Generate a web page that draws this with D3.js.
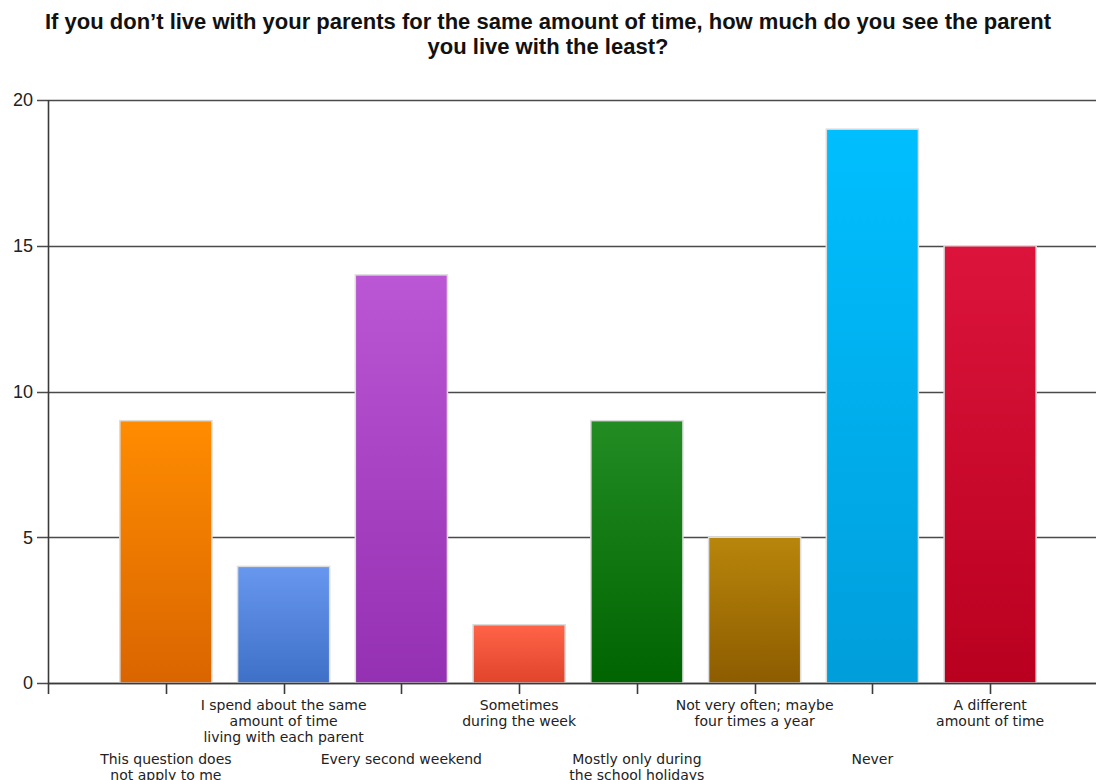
<!DOCTYPE html>
<html>
<head>
<meta charset="utf-8">
<script src="https://cdn.jsdelivr.net/npm/d3@7"></script>
<style>
  body { margin: 0; background: #fff; }
  svg { display: block; }
</style>
</head>
<body>
<svg width="1096" height="780"></svg>
<script>
// Data
const titleLines = [
  "If you don\u2019t live with your parents for the same amount of time, how much do you see the parent",
  "you live with the least?"
];
const categories = [
  "This question does\nnot apply to me",
  "I spend about the same\namount of time\nliving with each parent",
  "Every second weekend",
  "Sometimes\nduring the week",
  "Mostly only during\nthe school holidays",
  "Not very often; maybe\nfour times a year",
  "Never",
  "A different\namount of time"
];
const values = [9, 4, 14, 2, 9, 5, 19, 15];
const yTicks = [0, 5, 10, 15, 20];

// bar colours, top and bottom of the gradient
const topColors = ["#ff8c00", "#6797ee", "#bb56d4", "#ff6448", "#238c23", "#b8860b", "#00bfff", "#dc143c"];
const bottomColors = ["#da6500", "#3f70c8", "#9430b2", "#e0442b", "#006400", "#8d5c00", "#009edb", "#b9001f"];

const svg = d3.select("svg"),
  width = +svg.attr("width"),
  height = +svg.attr("height");

const axisX = 48, baseY = 683;

const x = d3.scaleBand()
    .domain(d3.range(categories.length))
    .range([107, 1049])
    .paddingInner(0.218)
    .paddingOuter(0.109);

const y = d3.scaleLinear()
    .domain([0, 20])
    .range([baseY, 100]);

// gradients
const defs = svg.append("defs");
categories.forEach((c, i) => {
  const g = defs.append("linearGradient")
      .attr("id", "grad" + i)
      .attr("x1", 0).attr("y1", 0).attr("x2", 0).attr("y2", 1);
  g.append("stop").attr("offset", "0%").attr("stop-color", topColors[i]);
  g.append("stop").attr("offset", "100%").attr("stop-color", bottomColors[i]);
});

// Title
svg.append("text")
    .attr("text-anchor", "middle")
    .style("font-family", "'Liberation Sans', Arial, sans-serif")
    .style("font-weight", "bold")
    .style("font-size", "22px")
    .style("fill", "#111")
    .selectAll("tspan")
    .data(titleLines)
    .enter()
    .append("tspan")
    .attr("x", width / 2)
    .attr("y", (d, i) => 29 + i * 25)
    .text(d => d);

// gridlines
svg.append("g")
    .selectAll("line")
    .data(yTicks)
    .enter()
    .append("line")
    .attr("x1", 37).attr("x2", width)
    .attr("y1", d => Math.round(y(d)) + 0.5)
    .attr("y2", d => Math.round(y(d)) + 0.5)
    .style("stroke", "#4a4a4a")
    .style("stroke-width", 1.4);

// y tick labels
svg.append("g")
    .selectAll("text")
    .data(yTicks)
    .enter()
    .append("text")
    .attr("x", 33)
    .attr("y", d => y(d))
    .attr("dy", "0.36em")
    .attr("text-anchor", "end")
    .style("font-family", "'Liberation Sans', Arial, sans-serif")
    .style("font-size", "18px")
    .style("fill", "#222")
    .text(d => d);

// y axis line
svg.append("line")
    .attr("x1", axisX + 0.5).attr("x2", axisX + 0.5)
    .attr("y1", y(20)).attr("y2", baseY + 11)
    .style("stroke", "#3a3a3a")
    .style("stroke-width", 1.6);

// bars
svg.append("g")
    .selectAll("rect")
    .data(values)
    .enter()
    .append("rect")
    .attr("x", (d, i) => x(i))
    .attr("y", d => y(d))
    .attr("width", x.bandwidth())
    .attr("height", d => baseY - y(d))
    .attr("fill", (d, i) => "url(#grad" + i + ")")
    .style("stroke", "#dcdcdc")
    .style("stroke-width", 1.5);

// x axis baseline and ticks
svg.append("line")
    .attr("x1", axisX).attr("x2", width)
    .attr("y1", baseY + 0.5).attr("y2", baseY + 0.5)
    .style("stroke", "#3a3a3a")
    .style("stroke-width", 1.6);

svg.append("g")
    .selectAll("line")
    .data(categories)
    .enter()
    .append("line")
    .attr("x1", (d, i) => Math.round(x(i) + x.bandwidth() / 2) + 0.5)
    .attr("x2", (d, i) => Math.round(x(i) + x.bandwidth() / 2) + 0.5)
    .attr("y1", baseY)
    .attr("y2", baseY + 11)
    .style("stroke", "#3a3a3a")
    .style("stroke-width", 1.6);

// category labels, staggered on two rows
const labels = svg.append("g")
    .selectAll("text")
    .data(categories)
    .enter()
    .append("text")
    .attr("text-anchor", "middle")
    .style("font-family", "'DejaVu Sans', Verdana, sans-serif")
    .style("font-size", "14px")
    .style("fill", "#222");

labels.each(function(d, i) {
  const cx = x(i) + x.bandwidth() / 2;
  const top = i % 2 === 1 ? 710 : 764;
  d3.select(this).selectAll("tspan")
      .data(d.split("\n"))
      .enter()
      .append("tspan")
      .attr("x", cx)
      .attr("y", (t, k) => top + k * 16)
      .text(t => t);
});
</script>
</body>
</html>
